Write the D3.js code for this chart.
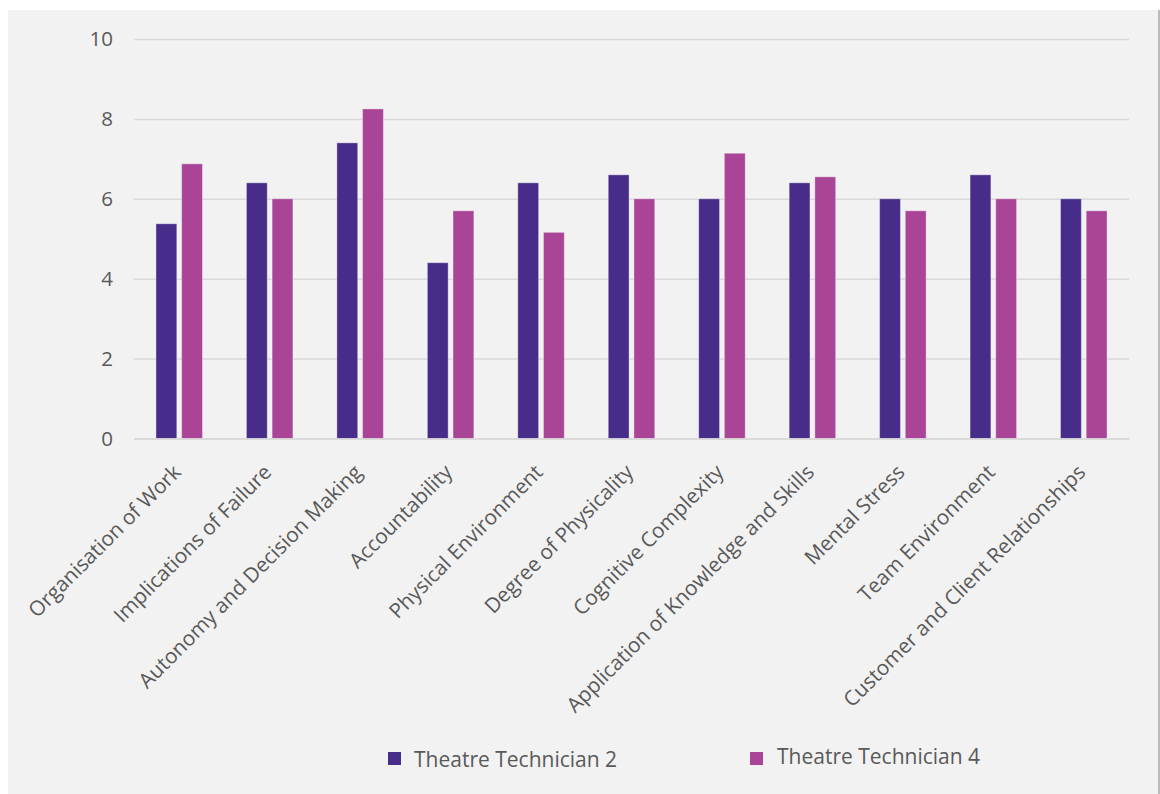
<!DOCTYPE html>
<html>
<head>
<meta charset="utf-8">
<script src="https://cdn.jsdelivr.net/npm/d3@7"></script>
<style>
  html, body { margin: 0; padding: 0; background: #ffffff; }
  svg { display: block; }
  text { font-family: "Open Sans", "Noto Sans", sans-serif; fill: #595959; }
</style>
</head>
<body>
<svg id="chart" width="1160" height="794"></svg>
<script>
// Job-evaluation factor scores for the two roles
const categories = [
  "Organisation of Work",
  "Implications of Failure",
  "Autonomy and Decision Making",
  "Accountability",
  "Physical Environment",
  "Degree of Physicality",
  "Cognitive Complexity",
  "Application of Knowledge and Skills",
  "Mental Stress",
  "Team Environment",
  "Customer and Client Relationships"
];
const seriesNames = ["Theatre Technician 2", "Theatre Technician 4"];
const technician2 = [5.375, 6.4, 7.4, 4.4, 6.4, 6.6, 6.0, 6.4, 6.0, 6.6, 6.0];
const technician4 = [6.875, 6.0, 8.25, 5.7, 5.16, 6.0, 7.14, 6.55, 5.7, 6.0, 5.7];
const yTicks = [0, 2, 4, 6, 8, 10];
const colors = ["#472c8a", "#a94496"];

const svg = d3.select("#chart");

// chart panel
svg.append("rect")
  .attr("x", 8).attr("y", 10)
  .attr("width", 1151).attr("height", 784)
  .attr("fill", "#f2f2f2");
svg.append("line")
  .attr("x1", 1159).attr("x2", 1159)
  .attr("y1", 10).attr("y2", 794)
  .attr("stroke", "#a6a6a6").attr("stroke-width", 1.5);

const plotLeft = 134, plotRight = 1129;
const y = d3.scaleLinear().domain([0, 10]).range([438.5, 39]);

const x0 = d3.scaleBand()
  .domain(categories)
  .range([plotLeft, plotRight])
  .paddingInner(0.486)
  .paddingOuter(0.243);

const x1 = d3.scaleBand()
  .domain(seriesNames)
  .range([0, x0.bandwidth()])
  .paddingInner(0.19)
  .paddingOuter(0);

// horizontal gridlines
const yAxis = d3.axisLeft(y)
  .tickValues(yTicks)
  .tickSize(-(plotRight - plotLeft))
  .tickPadding(21)
  .tickFormat(d3.format("d"));

const gy = svg.append("g")
  .attr("transform", `translate(${plotLeft},0)`)
  .call(yAxis);
gy.select(".domain").remove();
gy.selectAll(".tick line")
  .attr("stroke", "#d9d9d9")
  .attr("stroke-width", 1.5);
gy.selectAll(".tick text")
  .attr("font-size", 20.5)
  .attr("fill", "#595959")
  .attr("font-family", "\"Open Sans\", sans-serif");

// bars
const rows = categories.map((c, i) => ({ cat: c, values: [technician2[i], technician4[i]] }));

const groups = svg.append("g")
  .selectAll("g")
  .data(rows)
  .join("g")
  .attr("transform", d => `translate(${x0(d.cat)},0)`);

groups.selectAll("rect")
  .data(d => d.values.map((v, k) => ({ name: seriesNames[k], value: v, k })))
  .join("rect")
  .attr("x", d => x1(d.name))
  .attr("y", d => y(d.value))
  .attr("width", x1.bandwidth())
  .attr("height", d => y(0) - y(d.value))
  .attr("fill", d => colors[d.k])
  .attr("stroke", "rgba(255,255,255,0.35)")
  .attr("stroke-width", 1);

// category axis
const xAxis = d3.axisBottom(x0).tickSize(0).tickPadding(0);
const gx = svg.append("g")
  .attr("transform", `translate(0,${y(0)})`)
  .call(xAxis);
gx.select(".domain")
  .attr("stroke", "#d9d9d9")
  .attr("stroke-width", 1.5);
gx.selectAll(".tick text")
  .attr("font-size", 20.7)
  .attr("fill", "#595959")
  .attr("font-family", "\"Open Sans\", sans-serif")
  .attr("text-anchor", "end")
  .attr("dy", null)
  .attr("y", null)
  .attr("transform", "translate(3,35) rotate(-45)");

// legend
const legendPos = [
  { sx: 388, tx: 414, ty: 767 },
  { sx: 750, tx: 777, ty: 764 }
];
const legend = svg.append("g")
  .selectAll("g")
  .data(seriesNames)
  .join("g");
legend.append("rect")
  .attr("x", (d, i) => legendPos[i].sx)
  .attr("y", 752)
  .attr("width", 13).attr("height", 13)
  .attr("fill", (d, i) => colors[i]);
legend.append("text")
  .attr("x", (d, i) => legendPos[i].tx)
  .attr("y", (d, i) => legendPos[i].ty)
  .attr("font-size", 21)
  .text(d => d);
</script>
</body>
</html>
